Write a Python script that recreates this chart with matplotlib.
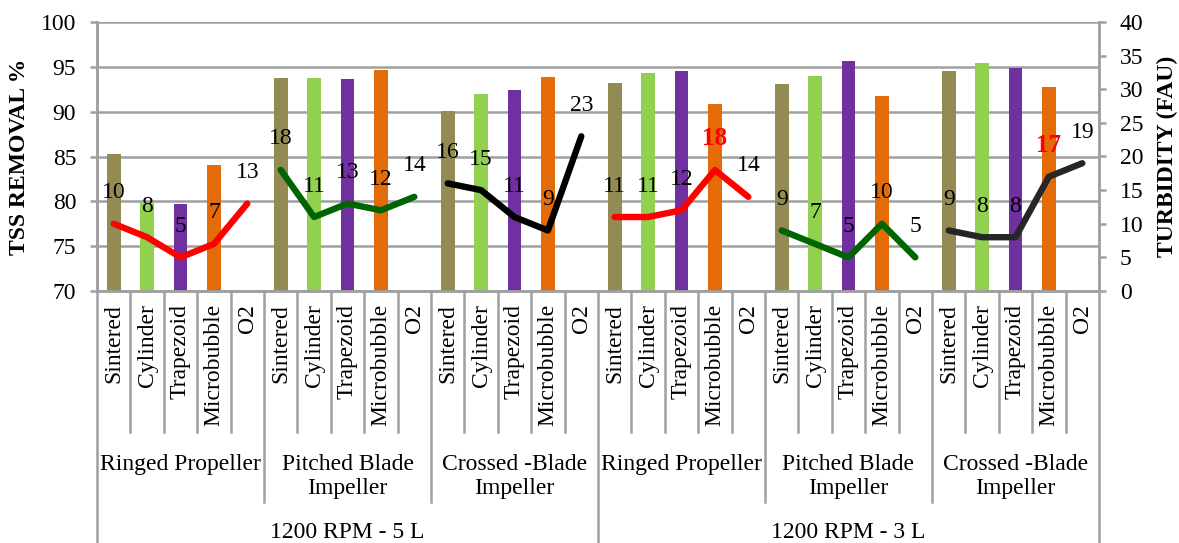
import numpy as np
import matplotlib
matplotlib.use('Agg')
from matplotlib import pyplot as plt
from matplotlib.lines import Line2D

plt.rcParams['font.family'] = ['Liberation Serif', 'DejaVu Serif']

# aerators per impeller, impellers per volume
aerators = ['Sintered', 'Cylinder', 'Trapezoid', 'Microbubble', 'O2']
impellers = ['Ringed Propeller', 'Pitched Blade\nImpeller', 'Crossed -Blade\nImpeller']
volumes = ['1200 RPM - 5 L', '1200 RPM - 3 L']

# TSS removal (%), one row per impeller block, O2 has no bar
tss_removal = [
    [85.3, 79.8, 79.7, 84.1, np.nan],
    [93.8, 93.8, 93.6, 94.6, np.nan],
    [90.1, 92.0, 92.4, 93.9, np.nan],
    [93.2, 94.3, 94.5, 90.9, np.nan],
    [93.1, 94.0, 95.7, 91.8, np.nan],
    [94.5, 95.4, 94.9, 92.8, np.nan],
]

# turbidity (FAU)
turbidity = [
    [10, 8, 5, 7, 13],
    [18, 11, 13, 12, 14],
    [16, 15, 11, 9, 23],
    [11, 11, 12, 18, 14],
    [9, 7, 5, 10, 5],
    [9, 8, 8, 17, 19],
]

bar_colors = ['#948A54', '#92D050', '#7030A0', '#E36C09', 'none']
line_colors = ['#FF0000', '#006400', '#000000', '#FF0000', '#006400', '#262626']
# labels printed in bold red
highlight = [(3, 3), (5, 3)]

W, H = 1179, 543
fig = plt.figure(figsize=(W / 100, H / 100), dpi=100)
x0, x1, ytop, ybot = 97, 1099, 22, 291
ax = fig.add_axes([x0 / W, (H - ybot) / H, (x1 - x0) / W, (ybot - ytop) / H])
ax2 = ax.twinx()

grid_c = '#A0A0A0'
fs = 17
n_cat = len(aerators)
n_grp = len(tss_removal)
total = n_cat * n_grp

ax.set_xlim(0, total)
ax.set_ylim(70, 100)
ax.set_yticks(np.arange(70, 101, 5))
ax2.set_ylim(0, 40)
ax2.set_yticks(np.arange(0, 41, 5))
ax.set_axisbelow(True)
ax.yaxis.grid(True, color=grid_c, linewidth=1.8)
ax.set_xticks([])

for a in (ax, ax2):
    for s in a.spines.values():
        s.set_color(grid_c)
        s.set_linewidth(1.8)
    a.spines['top'].set_visible(False)
    a.tick_params(axis='y', labelsize=fs, color=grid_c, width=1.8, length=5, pad=10)

ax.set_ylabel('TSS REMOVAL %', fontsize=fs, fontweight='bold')
ax2.set_ylabel('TURBIDITY (FAU)', fontsize=fs, fontweight='bold', rotation=90)
ax.yaxis.set_label_coords(-0.067, 0.5)
ax2.yaxis.set_label_coords(1.058, 0.5)

for g in range(n_grp):
    xs = g * n_cat + np.arange(n_cat) + 0.5
    for k in range(n_cat):
        v = tss_removal[g][k]
        if not np.isnan(v):
            ax.bar(xs[k], v - 70, bottom=70, width=0.41, color=bar_colors[k], zorder=2)
    ax2.plot(xs, turbidity[g], color=line_colors[g], linewidth=4.6,
             solid_capstyle='round', solid_joinstyle='round', zorder=3)
    for k in range(n_cat):
        bold = (g, k) in highlight
        ax2.annotate(str(turbidity[g][k]), (xs[k], turbidity[g][k]),
                     xytext=(0, 31), textcoords='offset pixels',
                     ha='center', va='center', fontsize=fs + 1 if bold else fs,
                     color='#FF0000' if bold else 'black',
                     fontweight='bold' if bold else 'normal', zorder=4)

# multi-level category axis below the plot
tr = ax.get_xaxis_transform()
ph = ybot - ytop


def ay(py):
    return (ybot - py) / ph


def vline(x, py):
    ax.add_line(Line2D([x, x], [0, ay(py)], transform=tr, color=grid_c,
                       linewidth=1.8, clip_on=False))


for i in range(total + 1):
    if i % n_cat == 0:
        if i % (n_cat * 3) == 0:
            vline(i, H)
        else:
            vline(i, 502)
    else:
        vline(i, 432)

for i in range(total):
    ax.text(i + 0.5, ay(304), aerators[i % n_cat], transform=tr, rotation=90,
            ha='center', va='top', fontsize=fs)

for g in range(n_grp):
    ax.text(g * n_cat + n_cat / 2, ay(454), impellers[g % 3], transform=tr,
            ha='center', va='top', fontsize=fs, linespacing=1.2)

for v, name in enumerate(volumes):
    ax.text(v * 15 + 7.5, ay(532), name, transform=tr,
            ha='center', va='center', fontsize=fs)

fig.savefig('out.png', dpi=100)
